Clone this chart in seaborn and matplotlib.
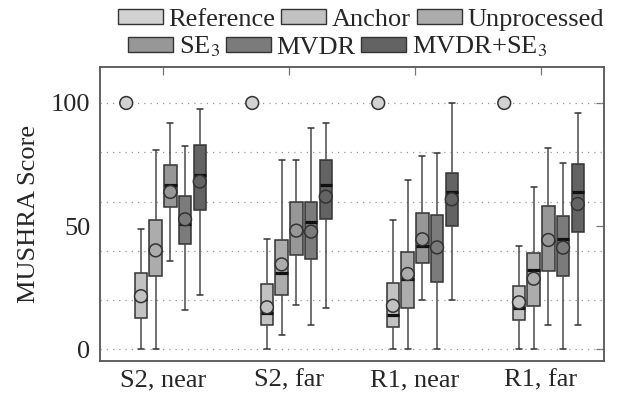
import numpy as np
import pandas as pd
import matplotlib
matplotlib.use("Agg")
import matplotlib.pyplot as plt
from matplotlib.patches import Patch
from matplotlib.ticker import MultipleLocator
import seaborn as sns

# ---------------- data ----------------
conditions = ["S2, near", "S2, far", "R1, near", "R1, far"]
methods = ["Reference", "Anchor", "Unprocessed", "SE$_3$", "MVDR", "MVDR+SE$_3$"]
colors = ["#d2d2d2", "#c2c2c2", "#acacac", "#979797", "#7b7b7b", "#636363"]

# five-number summaries per method (one value per condition)
whisker_low = {
    "Anchor":        [0, 0, 0, 0],
    "Unprocessed":   [0, 6, 0, 0],
    "SE$_3$":        [36, 18, 20, 10],
    "MVDR":          [16, 10, 0, 0],
    "MVDR+SE$_3$":   [22, 17, 20, 10],
}
q1 = {
    "Anchor":        [12.6, 9.9, 8.9, 12.0],
    "Unprocessed":   [29.9, 21.9, 16.9, 17.7],
    "SE$_3$":        [57.8, 38.4, 34.9, 31.9],
    "MVDR":          [42.9, 36.8, 27.5, 29.9],
    "MVDR+SE$_3$":   [56.7, 52.8, 49.9, 47.8],
}
median = {
    "Anchor":        [20.3, 14.9, 13.8, 16.9],
    "Unprocessed":   [40.0, 30.9, 28.7, 32.2],
    "SE$_3$":        [66.7, 48.0, 41.9, 44.0],
    "MVDR":          [50.7, 51.7, 42.0, 44.8],
    "MVDR+SE$_3$":   [70.9, 66.7, 63.7, 63.7],
}
q3 = {
    "Anchor":        [30.9, 26.4, 26.9, 25.8],
    "Unprocessed":   [52.6, 44.4, 39.4, 39.0],
    "SE$_3$":        [74.7, 59.7, 55.2, 58.3],
    "MVDR":          [62.2, 59.7, 54.7, 54.3],
    "MVDR+SE$_3$":   [83.1, 76.7, 71.7, 75.1],
}
whisker_high = {
    "Anchor":        [48.9, 44.8, 52.6, 41.8],
    "Unprocessed":   [80.8, 76.9, 68.9, 65.8],
    "SE$_3$":        [91.7, 76.9, 78.6, 81.6],
    "MVDR":          [82.7, 89.7, 79.6, 75.6],
    "MVDR+SE$_3$":   [97.6, 91.7, 100.0, 95.8],
}
means = {
    "Reference":     [100, 100, 100, 100],
    "Anchor":        [21.6, 17.1, 17.7, 19.1],
    "Unprocessed":   [40.2, 34.5, 30.6, 28.7],
    "SE$_3$":        [63.9, 48.2, 44.7, 44.4],
    "MVDR":          [52.8, 47.8, 41.4, 41.3],
    "MVDR+SE$_3$":   [68.1, 62.0, 60.9, 59.0],
}

# ---------------- build tables ----------------
rows = []
for m in methods[1:]:
    for ci, c in enumerate(conditions):
        for stat in (whisker_low, q1, median, q3, whisker_high):
            rows.append({"cond": c, "method": m, "score": stat[m][ci]})
df = pd.DataFrame(rows)

group_width = 0.7
n_hue = len(methods)
slot = group_width / n_hue
mean_rows = []
for hi, m in enumerate(methods):
    for ci, c in enumerate(conditions):
        mean_rows.append({"x": ci + (hi - (n_hue - 1) / 2) * slot,
                          "score": means[m][ci], "method": m})
mdf = pd.DataFrame(mean_rows)

# ---------------- style ----------------
sns.set_theme(style="white")
plt.rcParams["font.family"] = ["Liberation Serif", "DejaVu Serif"]
plt.rcParams["mathtext.fontset"] = "stix"
FS = 19

fig = plt.figure(figsize=(6.21, 3.96), dpi=100)
ax = fig.add_axes([100 / 621, 1 - 361 / 396, 504 / 621, 294 / 396])

palette = dict(zip(methods, colors))

sns.boxplot(data=df, x="cond", y="score", hue="method", order=conditions,
            hue_order=methods, palette=palette, saturation=1,
            width=group_width, gap=0.15, whis=(0, 100), showfliers=False,
            linecolor="#333333", linewidth=1.1,
            medianprops=dict(color="#111111", linewidth=2.3),
            whiskerprops=dict(color="#4a4a4a", linewidth=1.1),
            capprops=dict(color="#333333", linewidth=1.1),
            legend=False, ax=ax, zorder=3)

sns.scatterplot(data=mdf, x="x", y="score", hue="method", hue_order=methods,
                palette=palette, s=85, edgecolor="#333333", linewidth=1.1,
                legend=False, ax=ax, zorder=5)

ax.set_xlim(-0.5, 3.5)
ax.set_ylim(-4.7, 114.6)
ax.set_xticks(range(len(conditions)))
ax.set_xticklabels(conditions, fontsize=FS)
ax.set_yticks([0, 50, 100])
ax.set_yticklabels(["0", "50", "100"], fontsize=FS)
ax.yaxis.set_minor_locator(MultipleLocator(20))
ax.yaxis.remove_overlapping_locs = False
ax.grid(False)
ax.grid(axis="y", which="minor", linestyle=(0, (1, 4)), color="#9a9a9a",
        linewidth=0.9, zorder=0)
ax.set_axisbelow(True)
ax.set_xlabel("")
ax.set_ylabel("MUSHRA Score", fontsize=FS, labelpad=8)

ax.tick_params(axis="both", which="major", direction="in", length=6,
               width=0.9, color="#777777", top=True, right=True)
ax.tick_params(axis="x", which="major", pad=6)
ax.tick_params(axis="y", which="major", pad=7)
ax.tick_params(axis="y", which="minor", length=0, left=False, right=False)
for sp in ax.spines.values():
    sp.set_color("#555555")
    sp.set_linewidth(1.3)

# ---------------- legend (two rows) ----------------
def handles(ms):
    return [Patch(facecolor=palette[m], edgecolor="#333333", linewidth=1.0,
                  label=m) for m in ms]

leg_kw = dict(frameon=False, fontsize=FS, handlelength=1.7,
              handleheight=0.53, handletextpad=0.22, columnspacing=0.22,
              borderpad=0, borderaxespad=0, loc="center left")
leg1 = fig.legend(handles=handles(methods[:3]), ncol=3,
                  bbox_to_anchor=(118 / 621, 1 - 20 / 396), **leg_kw)
leg2 = fig.legend(handles=handles(methods[3:]), ncol=3,
                  bbox_to_anchor=(128 / 621, 1 - 47 / 396), **leg_kw)

fig.savefig("out.png", dpi=100)
